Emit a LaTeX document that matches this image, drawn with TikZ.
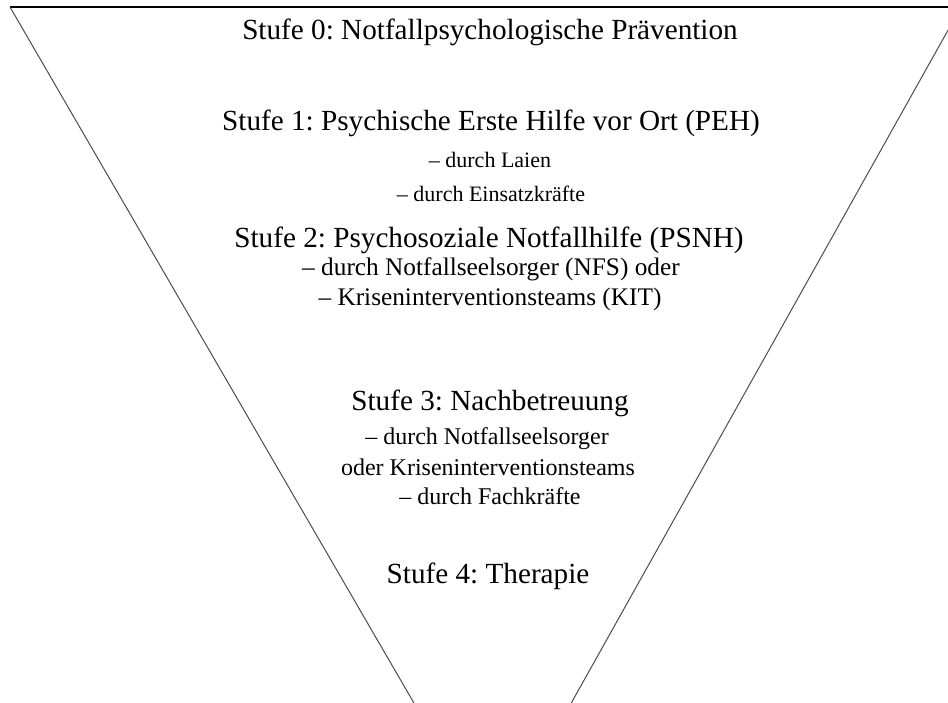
\documentclass[tikz,border=0pt]{standalone}
\usepackage{fontspec}
\setmainfont{Liberation Serif}
\frenchspacing
\begin{document}
\begin{tikzpicture}[x=1pt,y=-1pt,
  title/.style={anchor=base,inner sep=0pt,font=\fontsize{29.2}{34}\selectfont},
  subA/.style={anchor=base,inner sep=0pt,font=\fontsize{22}{26}\selectfont},
  subB/.style={anchor=base,inner sep=0pt,font=\fontsize{25.3}{29}\selectfont},
  subC/.style={anchor=base,inner sep=0pt,font=\fontsize{24}{28}\selectfont},
  side/.style={draw=black!70,line width=1pt},
  topline/.style={draw=black,line width=1.4pt}]
\useasboundingbox (0,0) rectangle (948,703);
\clip (0,0) rectangle (948,703);
\coordinate (tl) at (10,7);
\coordinate (tr) at (961,7);
\coordinate (apex) at (494,841);
\draw[topline] (tl) -- (tr);
\draw[side] (tl) -- (apex) -- (tr);
\node[title] (s0) at (490,40) {Stufe 0: Notfallpsychologische Prävention};
\node[title] (s1) at (491,131) {Stufe 1: Psychische Erste Hilfe vor Ort (PEH)};
\node[subA] (s1a) at (490,168) {– durch Laien};
\node[subA] (s1b) at (491,202) {– durch Einsatzkräfte};
\node[title] (s2) at (489,248) {Stufe 2: Psychosoziale Notfallhilfe (PSNH)};
\node[subB] (s2a) at (491,276) {– durch Notfallseelsorger (NFS) oder};
\node[subB] (s2b) at (490,306) {– Kriseninterventionsteams (KIT)};
\node[title] (s3) at (490,410) {Stufe 3: Nachbetreuung};
\node[subC] (s3a) at (487,444) {– durch Notfallseelsorger};
\node[subC] (s3b) at (488,475) {oder Kriseninterventionsteams};
\node[subC] (s3c) at (490,504) {– durch Fachkräfte};
\node[title] (s4) at (488,583) {Stufe 4: Therapie};
\end{tikzpicture}
\end{document}
